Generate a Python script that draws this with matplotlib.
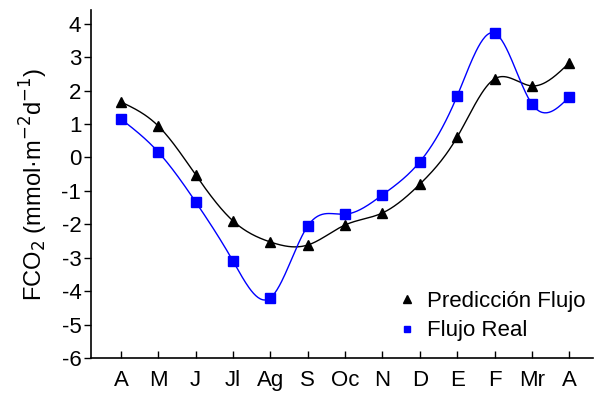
import numpy as np
import matplotlib
matplotlib.use("Agg")
import matplotlib.pyplot as plt
from matplotlib.lines import Line2D

plt.rcParams['font.family'] = ['Liberation Sans', 'DejaVu Sans']

months = ["A", "M", "J", "Jl", "Ag", "S", "Oc", "N", "D", "E", "F", "Mr", "A"]
prediccion = [1.66, 0.94, -0.52, -1.90, -2.53, -2.62, -2.02, -1.66, -0.80, 0.61, 2.35, 2.14, 2.83]
real = [1.15, 0.16, -1.33, -3.10, -4.20, -2.05, -1.70, -1.12, -0.13, 1.84, 3.72, 1.60, 1.81]
yticks = [4, 3, 2, 1, 0, -1, -2, -3, -4, -5, -6]


def natural_spline(x, y, n=400):
    x = np.asarray(x, float)
    y = np.asarray(y, float)
    m = len(x)
    h = np.diff(x)
    A = np.zeros((m, m))
    b = np.zeros(m)
    A[0, 0] = 1
    A[-1, -1] = 1
    for i in range(1, m - 1):
        A[i, i - 1] = h[i - 1]
        A[i, i] = 2 * (h[i - 1] + h[i])
        A[i, i + 1] = h[i]
        b[i] = 3 * ((y[i + 1] - y[i]) / h[i] - (y[i] - y[i - 1]) / h[i - 1])
    c = np.linalg.solve(A, b)
    xs = np.linspace(x[0], x[-1], n)
    ys = np.empty_like(xs)
    for k, xv in enumerate(xs):
        i = min(np.searchsorted(x, xv, side='right') - 1, m - 2)
        dx = xv - x[i]
        bi = (y[i + 1] - y[i]) / h[i] - h[i] * (2 * c[i] + c[i + 1]) / 3
        di = (c[i + 1] - c[i]) / (3 * h[i])
        ys[k] = y[i] + bi * dx + c[i] * dx ** 2 + di * dx ** 3
    return xs, ys


fig = plt.figure(figsize=(5.95, 3.94), dpi=100)
ax = fig.add_axes([0.153, 0.0914, 0.844, 0.884])

x = np.arange(len(months))
xs, ys = natural_spline(x, prediccion)
ax.plot(xs, ys, color='black', lw=1.0)
ax.plot(x, prediccion, ls='none', marker='^', color='black', ms=7)
xs, ys = natural_spline(x, real)
ax.plot(xs, ys, color='#0000FF', lw=1.0)
ax.plot(x, real, ls='none', marker='s', color='#0000FF', ms=6.5)

ax.set_xlim(-0.8, 12.64)
ax.set_ylim(-6, 4.42)
ax.set_xticks(x)
ax.set_xticklabels(months)
ax.set_yticks(yticks)
ax.set_yticklabels([str(v) for v in yticks])
ax.tick_params(axis='x', direction='in', length=5, width=1, labelsize=16, pad=9)
ax.tick_params(axis='y', direction='out', length=5, width=1, labelsize=16, pad=2)
for s in ['top', 'right']:
    ax.spines[s].set_visible(False)
for s in ['left', 'bottom']:
    ax.spines[s].set_linewidth(1.2)

ax.set_ylabel("FCO$_2$ (mmol·m$^{-2}$d$^{-1}$)", fontsize=17, labelpad=8)

handles = [Line2D([], [], ls='none', marker='^', color='black', ms=5.5),
           Line2D([], [], ls='none', marker='s', color='#0000FF', ms=5)]
ax.legend(handles, ["Predicción Flujo", "Flujo Real"], loc='lower right',
          frameon=False, fontsize=16, handletextpad=0.4, labelspacing=0.38,
          borderaxespad=0.0, handlelength=1.0, bbox_to_anchor=(1.003, 0.022))

fig.savefig("out.png", dpi=100)
